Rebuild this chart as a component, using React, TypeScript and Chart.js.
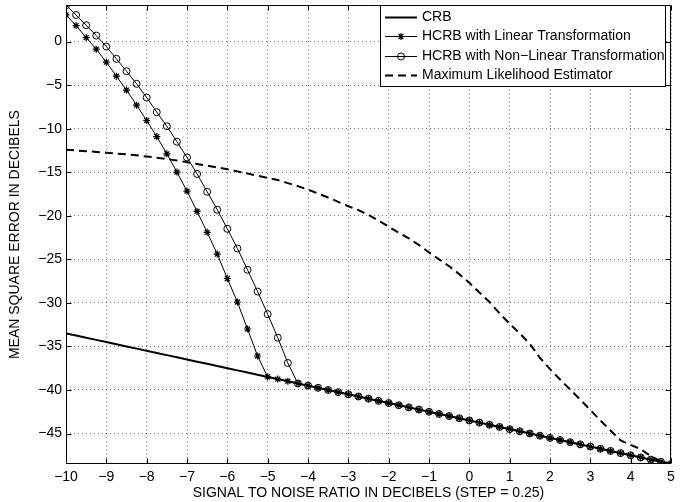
import React, { useEffect, useRef } from 'react';
import { Chart, registerables } from 'chart.js';

Chart.register(...registerables);

const SNR_DB = [
  -10, -9.75, -9.5, -9.25, -9, -8.75, -8.5, -8.25, -8, -7.75, -7.5, -7.25, -7, -6.75, -6.5, -6.25,
  -6, -5.75, -5.5, -5.25, -5, -4.75, -4.5, -4.25, -4, -3.75, -3.5, -3.25, -3, -2.75, -2.5, -2.25,
  -2, -1.75, -1.5, -1.25, -1, -0.75, -0.5, -0.25, 0, 0.25, 0.5, 0.75, 1, 1.25, 1.5, 1.75,
  2, 2.25, 2.5, 2.75, 3, 3.25, 3.5, 3.75, 4, 4.25, 4.5, 4.75, 5,
];

const CRB = [
  -33.5, -33.75, -34, -34.25, -34.5, -34.75, -35, -35.25, -35.5, -35.75, -36, -36.25, -36.5, -36.75, -37, -37.25,
  -37.5, -37.75, -38, -38.25, -38.5, -38.75, -39, -39.25, -39.5, -39.75, -40, -40.25, -40.5, -40.75, -41, -41.25,
  -41.5, -41.75, -42, -42.25, -42.5, -42.75, -43, -43.25, -43.5, -43.75, -44, -44.25, -44.5, -44.75, -45, -45.25,
  -45.5, -45.75, -46, -46.25, -46.5, -46.75, -47, -47.25, -47.5, -47.75, -48, -48.25, -48.5,
];

const HCRB_LINEAR = [
  3.06, 1.84, 0.46, -0.87, -2.36, -3.97, -5.57, -7.3, -9.06, -10.9, -12.88, -14.98, -17.16, -19.5, -21.9, -24.4,
  -27.2, -29.9, -33.0, -36.1, -38.5, -38.75, -39, -39.25, -39.5, -39.75, -40, -40.25, -40.5, -40.75, -41, -41.25,
  -41.5, -41.75, -42, -42.25, -42.5, -42.75, -43, -43.25, -43.5, -43.75, -44, -44.25, -44.5, -44.75, -45, -45.25,
  -45.5, -45.75, -46, -46.25, -46.5, -46.75, -47, -47.25, -47.5, -47.75, -48, -48.25, -48.5,
];

const HCRB_NONLINEAR = [
  4.18, 3.06, 1.88, 0.69, -0.57, -1.98, -3.4, -4.85, -6.42, -8.1, -9.72, -11.5, -13.3, -15.2, -17.24, -19.3,
  -21.5, -23.75, -26.2, -28.7, -31.3, -34.0, -36.9, -39.25, -39.5, -39.75, -40, -40.25, -40.5, -40.75, -41, -41.25,
  -41.5, -41.75, -42, -42.25, -42.5, -42.75, -43, -43.25, -43.5, -43.75, -44, -44.25, -44.5, -44.75, -45, -45.25,
  -45.5, -45.75, -46, -46.25, -46.5, -46.75, -47, -47.25, -47.5, -47.75, -48, -48.25, -48.5,
];

const MLE = [
  -12.42, -12.5, -12.58, -12.67, -12.76, -12.85, -12.95, -13.06, -13.19, -13.33, -13.48, -13.64, -13.85, -14.05, -14.25, -14.45,
  -14.65, -14.9, -15.15, -15.4, -15.65, -15.9, -16.25, -16.6, -17.0, -17.45, -17.9, -18.4, -18.9, -19.35, -19.9, -20.55,
  -21.25, -21.95, -22.6, -23.35, -24.2, -25.0, -25.8, -26.7, -27.7, -28.8, -29.9, -31.2, -32.4, -33.5, -34.7, -36.3,
  -37.6, -38.8, -39.95, -41.1, -42.3, -43.5, -44.65, -45.8, -46.3, -46.8, -47.6, -48.2, -48.45,
];

const X_TICKS = [-10, -9, -8, -7, -6, -5, -4, -3, -2, -1, 0, 1, 2, 3, 4, 5];
const Y_TICKS = [-45, -40, -35, -30, -25, -20, -15, -10, -5, 0];

const SERIES_LABELS = [
  'CRB',
  'HCRB with Linear Transformation',
  'HCRB with Non\u2212Linear Transformation',
  'Maximum Likelihood Estimator',
];
const X_TITLE = 'SIGNAL TO NOISE RATIO IN DECIBELS (STEP = 0.25)';
const Y_TITLE = 'MEAN SQUARE ERROR IN DECIBELS';

const FONT_FAMILY = '"Liberation Sans", Arial, Helvetica, sans-serif';

const fmt = (v: number) => (v < 0 ? '\u2212' + Math.abs(v) : String(v));

const toPoints = (ys: number[]) => SNR_DB.map((x, i) => ({ x, y: ys[i] }));

const frameTicksPlugin = {
  id: 'frameTicks',
  afterDraw(chart: any) {
    const { ctx, chartArea } = chart;
    const xs = chart.scales.x;
    const ys = chart.scales.y;
    const { left, right, top, bottom } = chartArea;
    const L = 5;
    ctx.save();
    ctx.strokeStyle = '#000';
    ctx.lineWidth = 1;
    ctx.setLineDash([]);
    ctx.beginPath();
    const l = Math.round(left) + 0.5;
    const r = Math.round(right) - 0.5;
    const t = Math.round(top) + 0.5;
    const b = Math.round(bottom) - 0.5;
    ctx.rect(l, t, r - l, b - t);
    X_TICKS.forEach((v) => {
      const px = Math.round(xs.getPixelForValue(v)) + 0.5;
      ctx.moveTo(px, b);
      ctx.lineTo(px, b - L);
      ctx.moveTo(px, t);
      ctx.lineTo(px, t + L);
    });
    Y_TICKS.forEach((v) => {
      const py = Math.round(ys.getPixelForValue(v)) + 0.5;
      ctx.moveTo(l, py);
      ctx.lineTo(l + L, py);
      ctx.moveTo(r, py);
      ctx.lineTo(r - L, py);
    });
    ctx.stroke();
    ctx.restore();
  },
};

function drawMarker(ctx: CanvasRenderingContext2D, style: string, x: number, y: number, r: number, fill: string) {
  ctx.beginPath();
  if (style === 'star') {
    const d = r * Math.SQRT1_2;
    ctx.moveTo(x - r, y);
    ctx.lineTo(x + r, y);
    ctx.moveTo(x, y - r);
    ctx.lineTo(x, y + r);
    ctx.moveTo(x - d, y - d);
    ctx.lineTo(x + d, y + d);
    ctx.moveTo(x - d, y + d);
    ctx.lineTo(x + d, y - d);
    ctx.stroke();
  } else {
    ctx.arc(x, y, r, 0, Math.PI * 2);
    ctx.fillStyle = fill;
    ctx.fill();
    ctx.stroke();
  }
}

const legendPlugin = {
  id: 'matlabLegend',
  afterDraw(chart: any) {
    const { ctx, chartArea } = chart;
    const datasets = chart.data.datasets;
    ctx.save();
    ctx.font = `14px ${FONT_FAMILY}`;
    const textW = Math.max(...datasets.map((d: any) => ctx.measureText(d.label).width));
    const rowH = 19.5;
    const textOffset = 42;
    const w = Math.round(textOffset + textW + 1);
    const h = Math.round(rowH * datasets.length + 4);
    const right = Math.round(chartArea.right) - 5;
    const left = right - w;
    const top = Math.round(chartArea.top);
    ctx.fillStyle = '#fff';
    ctx.fillRect(left, top, w, h);
    ctx.strokeStyle = '#000';
    ctx.lineWidth = 1;
    ctx.strokeRect(left + 0.5, top + 0.5, w - 1, h - 1);
    datasets.forEach((d: any, i: number) => {
      const cy = top + 2 + rowH * i + rowH / 2;
      const ly = Math.round(cy) + 0.5;
      const x1 = left + 5;
      const x2 = left + 37;
      ctx.save();
      ctx.strokeStyle = d.borderColor;
      ctx.lineWidth = d.borderWidth;
      ctx.setLineDash(d.borderDash || []);
      ctx.beginPath();
      ctx.moveTo(x1, ly);
      ctx.lineTo(x2, ly);
      ctx.stroke();
      ctx.restore();
      if (d.pointRadius > 0) {
        ctx.save();
        ctx.strokeStyle = d.pointBorderColor;
        ctx.lineWidth = d.pointBorderWidth;
        drawMarker(ctx, d.pointStyle, (x1 + x2) / 2, ly, d.pointRadius, d.pointBackgroundColor);
        ctx.restore();
      }
      ctx.fillStyle = '#000';
      ctx.textBaseline = 'middle';
      ctx.textAlign = 'left';
      ctx.fillText(d.label, left + textOffset, cy);
    });
    ctx.restore();
  },
};

export default function App() {
  const canvasRef = useRef<HTMLCanvasElement | null>(null);

  useEffect(() => {
    const canvas = canvasRef.current;
    if (!canvas) return;
    const tickFont = { family: FONT_FAMILY, size: 14 };
    const chart = new Chart(canvas, {
      type: 'line',
      data: {
        datasets: [
          {
            label: SERIES_LABELS[0],
            data: toPoints(CRB),
            borderColor: '#000',
            borderWidth: 2,
            pointRadius: 0,
            tension: 0,
          },
          {
            label: SERIES_LABELS[1],
            data: toPoints(HCRB_LINEAR),
            borderColor: '#000',
            borderWidth: 1,
            pointStyle: 'star',
            pointRadius: 3.5,
            pointBorderWidth: 1.2,
            pointBorderColor: '#000',
            pointBackgroundColor: '#000',
            tension: 0,
          },
          {
            label: SERIES_LABELS[2],
            data: toPoints(HCRB_NONLINEAR),
            borderColor: '#000',
            borderWidth: 1,
            pointStyle: 'circle',
            pointRadius: 3.5,
            pointBorderWidth: 1,
            pointBorderColor: '#000',
            pointBackgroundColor: 'rgba(0,0,0,0)',
            tension: 0,
          },
          {
            label: SERIES_LABELS[3],
            data: toPoints(MLE),
            borderColor: '#000',
            borderWidth: 2,
            borderDash: [8, 5],
            pointRadius: 0,
            tension: 0,
          },
        ],
      },
      options: {
        animation: false,
        responsive: false,
        maintainAspectRatio: false,
        devicePixelRatio: 1,
        layout: { padding: { top: 5, right: 18, left: 0, bottom: 0 } },
        plugins: {
          legend: { display: false },
          tooltip: { enabled: false },
        },
        scales: {
          x: {
            type: 'linear',
            min: -10,
            max: 5,
            afterBuildTicks: (scale: any) => {
              scale.ticks = X_TICKS.map((v) => ({ value: v }));
            },
            afterFit: (scale: any) => {
              scale.height = 38;
              scale.paddingLeft = 0;
              scale.paddingRight = 0;
            },
            ticks: {
              color: '#000',
              font: tickFont,
              padding: 5,
              maxRotation: 0,
              autoSkip: false,
              callback: (v: any) => fmt(Number(v)),
            },
            grid: {
              color: 'rgba(0,0,0,0.55)',
              lineWidth: 1,
              drawTicks: false,
            },
            border: { display: false, dash: [1, 3] },
            title: {
              display: true,
              text: X_TITLE,
              color: '#000',
              font: tickFont,
              padding: { top: 0, bottom: 0 },
            },
          },
          y: {
            type: 'linear',
            min: -48.5,
            max: 4.18,
            afterBuildTicks: (scale: any) => {
              scale.ticks = Y_TICKS.map((v) => ({ value: v }));
            },
            afterFit: (scale: any) => {
              scale.width = 66;
              scale.paddingTop = 0;
              scale.paddingBottom = 0;
            },
            ticks: {
              color: '#000',
              font: tickFont,
              padding: 4,
              autoSkip: false,
              callback: (v: any) => fmt(Number(v)),
            },
            grid: {
              color: 'rgba(0,0,0,0.55)',
              lineWidth: 1,
              drawTicks: false,
            },
            border: { display: false, dash: [1, 3] },
            title: {
              display: true,
              text: Y_TITLE,
              color: '#000',
              font: tickFont,
              padding: { top: 7, bottom: 0 },
            },
          },
        },
      },
      plugins: [frameTicksPlugin, legendPlugin],
    } as any);
    return () => chart.destroy();
  }, []);

  return (
    <div style={{ position: 'absolute', left: 0, top: 0, width: 689, height: 502, background: '#fff' }}>
      <canvas ref={canvasRef} width={689} height={502} style={{ display: 'block', width: 689, height: 502 }} />
    </div>
  );
}
